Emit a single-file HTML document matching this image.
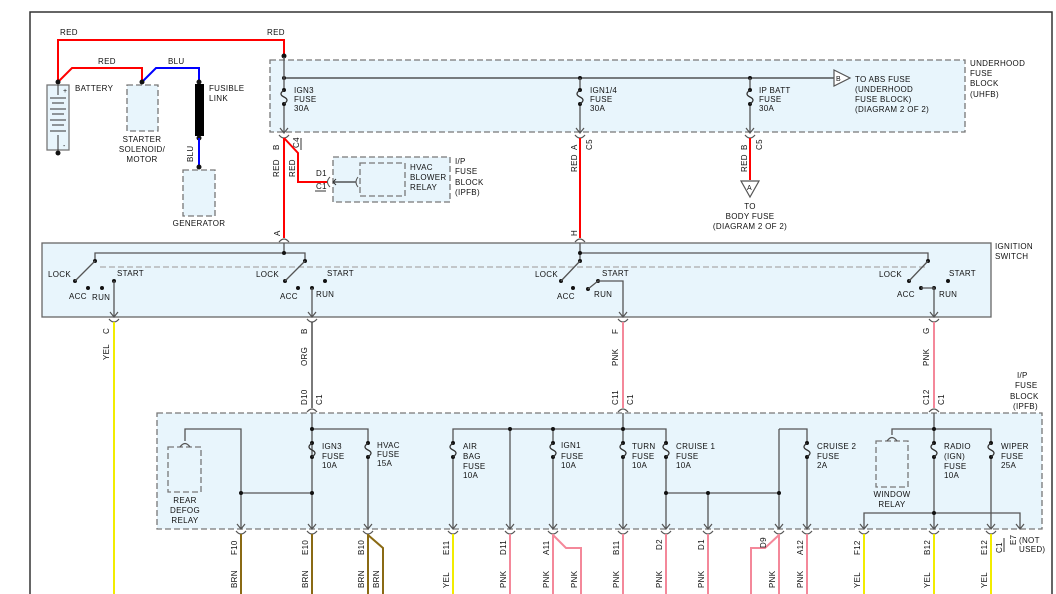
<!DOCTYPE html>
<html><head><meta charset="utf-8"><style>
html,body{margin:0;padding:0;background:#fff;}
svg{display:block;}
text{font-family:"Liberation Sans",Arial,sans-serif;font-size:8px;fill:#111;letter-spacing:0.3px;}
.g{stroke:#555;stroke-width:1.3;fill:none;}
.k{stroke:#333;stroke-width:1.3;fill:none;}
.box{fill:#e8f5fc;stroke:#777;stroke-width:1.3;stroke-dasharray:6,3;}
.r{stroke:#f00;stroke-width:2;fill:none;}
.b{stroke:#00f;stroke-width:2;fill:none;}
.y{stroke:#f2ec00;stroke-width:2;fill:none;}
.p{stroke:#f4889a;stroke-width:2;fill:none;}
.n{stroke:#8a6a14;stroke-width:2;fill:none;}
</style></head><body>
<svg width="1056" height="594" viewBox="0 0 1056 594" xmlns="http://www.w3.org/2000/svg">
<defs>
<g id="fz"><circle cx="0" cy="0" r="2" fill="#111"/><circle cx="0" cy="14" r="2" fill="#111"/><path d="M0,0 c-4,3 -4,5 0,7 c4,2 4,4 0,7" stroke="#333" stroke-width="1.3" fill="none"/></g>
<g id="ar"><path d="M-4,-5 L0,0 L4,-5" stroke="#555" stroke-width="1.2" fill="none"/></g>
<g id="cn"><path d="M-5,2 Q0,-4 5,2" stroke="#555" stroke-width="1.2" fill="none"/></g>
<g id="cu"><path d="M-5,-2 Q0,4 5,-2" stroke="#555" stroke-width="1.2" fill="none"/></g>
</defs>
<!-- outer frame -->
<path d="M30,594 L30,12 L1052,12 L1052,594" stroke="#333" stroke-width="1.5" fill="none"/>

<!-- top wires -->
<path class="r" d="M58,82 L58,40 L284,40 L284,57"/>
<text x="60" y="35">RED</text><text x="267" y="35">RED</text>
<path class="r" d="M58,82 L72,68 L142,68 L142,82"/>
<text x="98" y="64">RED</text>
<path class="b" d="M142,82 L156,68 L199,68 L199,82"/>
<text x="168" y="64">BLU</text>
<circle cx="58" cy="82" r="2.5" fill="#111"/><circle cx="142" cy="82" r="2.5" fill="#111"/><circle cx="199" cy="82" r="2.5" fill="#111"/><circle cx="284" cy="56" r="2.5" fill="#111"/>
<!-- battery -->
<rect x="47" y="85" width="22" height="65" fill="#e8f5fc" stroke="#777" stroke-width="1.3"/>
<path d="M58,85 L58,95 M50,98 L66,98 M52,103 L64,103 M50,109 L66,109 M52,114 L64,114 M50,120 L66,120 M52,125 L64,125 M50,131 L66,131 M58,135 L58,150" stroke="#333" stroke-width="1" fill="none"/>
<text x="63" y="93" style="font-size:7px">+</text><text x="63" y="148" style="font-size:7px">-</text>
<circle cx="58" cy="153" r="2.5" fill="#111"/>
<text x="75" y="91">BATTERY</text>
<rect x="127" y="85" width="31" height="46" class="box"/>
<text x="142" y="142" text-anchor="middle">STARTER</text><text x="142" y="152" text-anchor="middle">SOLENOID/</text><text x="142" y="162" text-anchor="middle">MOTOR</text>
<rect x="195" y="84" width="9" height="52" fill="#000"/>
<circle cx="199" cy="138" r="2.5" fill="#111"/>
<text x="209" y="91">FUSIBLE</text><text x="209" y="101">LINK</text>
<path class="b" d="M199,138 L199,167"/><circle cx="199" cy="167" r="2.5" fill="#111"/>
<text transform="translate(193,162) rotate(-90)">BLU</text>
<rect x="183" y="170" width="32" height="46" class="box"/>
<text x="199" y="226" text-anchor="middle">GENERATOR</text>

<!-- UHFB -->
<rect x="270" y="60" width="695" height="72" class="box"/>
<path class="k" d="M284,78 L835,78"/>
<circle cx="284" cy="78" r="2" fill="#111"/><circle cx="580" cy="78" r="2" fill="#111"/><circle cx="750" cy="78" r="2" fill="#111"/>
<path class="g" d="M284,57 L284,90 M284,104 L284,132 M580,78 L580,90 M580,104 L580,132 M750,78 L750,90 M750,104 L750,132"/>
<use href="#fz" x="284" y="90"/><use href="#fz" x="580" y="90"/><use href="#fz" x="750" y="90"/>
<use href="#ar" x="284" y="133"/><use href="#ar" x="580" y="133"/><use href="#ar" x="750" y="133"/>
<text x="294" y="93">IGN3</text><text x="294" y="102">FUSE</text><text x="294" y="111">30A</text>
<text x="590" y="93">IGN1/4</text><text x="590" y="102">FUSE</text><text x="590" y="111">30A</text>
<text x="759" y="93">IP BATT</text><text x="759" y="102">FUSE</text><text x="759" y="111">30A</text>
<path d="M834,70 L850,78 L834,86 Z" fill="#fff" stroke="#555" stroke-width="1.2"/><text x="836" y="81" style="font-size:7px">B</text>
<text x="855" y="82">TO ABS FUSE</text><text x="855" y="92">(UNDERHOOD</text><text x="855" y="102">FUSE BLOCK)</text><text x="855" y="112">(DIAGRAM 2 OF 2)</text>
<text x="970" y="66">UNDERHOOD</text><text x="970" y="76">FUSE</text><text x="970" y="86">BLOCK</text><text x="970" y="97">(UHFB)</text>

<!-- connectors below UHFB -->
<use href="#cu" x="284" y="137"/><use href="#cu" x="580" y="137"/><use href="#cu" x="750" y="137"/>
<path class="r" d="M284,138 L284,238"/>
<path class="r" d="M284,138 L298,153 L298,182 L327,182"/>
<path class="r" d="M580,138 L580,238"/>
<path class="r" d="M750,138 L750,180"/>
<text transform="translate(279,150) rotate(-90)">B</text>
<text transform="translate(299,148) rotate(-90)">C4</text><path d="M301,138 L301,150" stroke="#333"/>
<text transform="translate(279,177) rotate(-90)">RED</text>
<text transform="translate(295,177) rotate(-90)">RED</text>
<text transform="translate(577,150) rotate(-90)">A</text><text transform="translate(577,172) rotate(-90)">RED</text>
<text transform="translate(592,150) rotate(-90)">C5</text>
<text transform="translate(747,150) rotate(-90)">B</text><text transform="translate(747,172) rotate(-90)">RED</text>
<text transform="translate(762,150) rotate(-90)">C5</text>
<path d="M741,181 L759,181 L750,197 Z" fill="#fff" stroke="#555" stroke-width="1.2"/><text x="747" y="190" style="font-size:7px">A</text>
<text x="750" y="209" text-anchor="middle">TO</text><text x="750" y="219" text-anchor="middle">BODY FUSE</text><text x="750" y="229" text-anchor="middle">(DIAGRAM 2 OF 2)</text>

<!-- HVAC relay block -->
<rect x="333" y="157" width="117" height="45" class="box"/>
<rect x="360" y="163" width="45" height="33" class="box"/>
<path d="M330,177 Q325,182 330,187" stroke="#555" fill="none"/>
<path class="k" d="M333,182 L356,182"/><path d="M336,179 L333,182 L336,185" stroke="#333" fill="none"/>
<path d="M358,177 Q354,182 358,187" stroke="#555" fill="none"/>
<text x="316" y="176">D1</text><text x="316" y="189">C1</text><path d="M315,191 L326,191" stroke="#333"/>
<text x="410" y="170">HVAC</text><text x="410" y="180">BLOWER</text><text x="410" y="190">RELAY</text>
<text x="455" y="164">I/P</text><text x="455" y="174">FUSE</text><text x="455" y="185">BLOCK</text><text x="455" y="195">(IPFB)</text>

<!-- Ignition switch -->
<use href="#cn" x="284" y="240"/><use href="#cn" x="580" y="240"/>
<text transform="translate(280,236) rotate(-90)">A</text><text transform="translate(577,236) rotate(-90)">H</text>
<rect x="42" y="243" width="949" height="74" fill="#e8f5fc" stroke="#666" stroke-width="1.3"/>
<path class="g" d="M284,243 L284,253 M95,261 L95,253 L305,253 L305,261 M580,243 L580,261 M580,253 L928,253 L928,261"/>
<circle cx="284" cy="253" r="2" fill="#111"/><circle cx="580" cy="253" r="2" fill="#111"/>
<path d="M100,267 L925,267" stroke="#aaa" stroke-width="1.3" stroke-dasharray="6,3"/>
<g fill="#111">
<circle cx="95" cy="261" r="2"/><circle cx="75" cy="281" r="2"/><circle cx="88" cy="288" r="2"/><circle cx="102" cy="288" r="2"/><circle cx="114" cy="281" r="2"/>
<circle cx="305" cy="261" r="2"/><circle cx="285" cy="281" r="2"/><circle cx="298" cy="288" r="2"/><circle cx="312" cy="288" r="2"/><circle cx="325" cy="281" r="2"/>
<circle cx="580" cy="261" r="2"/><circle cx="561" cy="281" r="2"/><circle cx="573" cy="288" r="2"/><circle cx="588" cy="289" r="2"/><circle cx="598" cy="281" r="2"/>
<circle cx="928" cy="261" r="2"/><circle cx="909" cy="281" r="2"/><circle cx="921" cy="288" r="2"/><circle cx="934" cy="288" r="2"/><circle cx="948" cy="281" r="2"/>
</g>
<path class="g" d="M95,261 L75,281 M305,261 L285,281 M580,261 L561,281 M928,261 L909,281 M114,281 L114,317 M312,288 L312,317 M588,289 L598,281 L623,281 L623,317 M921,288 L934,288 L934,317"/>
<use href="#ar" x="114" y="317"/><use href="#ar" x="312" y="317"/><use href="#ar" x="623" y="317"/><use href="#ar" x="934" y="317"/>
<text x="48" y="277">LOCK</text><text x="117" y="276">START</text><text x="69" y="299">ACC</text><text x="92" y="300">RUN</text>
<text x="256" y="277">LOCK</text><text x="327" y="276">START</text><text x="280" y="299">ACC</text><text x="316" y="297">RUN</text>
<text x="535" y="277">LOCK</text><text x="602" y="276">START</text><text x="557" y="299">ACC</text><text x="594" y="297">RUN</text>
<text x="879" y="277">LOCK</text><text x="949" y="276">START</text><text x="897" y="297">ACC</text><text x="939" y="297">RUN</text>
<text x="995" y="249">IGNITION</text><text x="995" y="259">SWITCH</text>

<!-- wires between -->
<use href="#cu" x="114" y="321"/><use href="#cu" x="312" y="321"/><use href="#cu" x="623" y="321"/><use href="#cu" x="934" y="321"/>
<path class="y" d="M114,322 L114,594"/>
<path class="k" d="M312,322 L312,408"/>
<path class="p" d="M623,322 L623,408"/>
<path class="p" d="M934,322 L934,408"/>
<text transform="translate(109,334) rotate(-90)">C</text><text transform="translate(109,360) rotate(-90)">YEL</text>
<text transform="translate(307,334) rotate(-90)">B</text><text transform="translate(307,366) rotate(-90)">ORG</text>
<text transform="translate(618,334) rotate(-90)">F</text><text transform="translate(618,366) rotate(-90)">PNK</text>
<text transform="translate(929,334) rotate(-90)">G</text><text transform="translate(929,366) rotate(-90)">PNK</text>
<text transform="translate(307,405) rotate(-90)">D10</text><text transform="translate(322,405) rotate(-90)">C1</text>
<text transform="translate(618,405) rotate(-90)">C11</text><text transform="translate(633,405) rotate(-90)">C1</text>
<text transform="translate(929,405) rotate(-90)">C12</text><text transform="translate(944,405) rotate(-90)">C1</text>
<use href="#cn" x="312" y="410"/><use href="#cn" x="623" y="410"/><use href="#cn" x="934" y="410"/>
<text x="1017" y="378">I/P</text><text x="1015" y="388">FUSE</text><text x="1010" y="399">BLOCK</text><text x="1013" y="409">(IPFB)</text>

<!-- IPFB -->
<rect x="157" y="413" width="885" height="116" class="box"/>
<rect x="168" y="447" width="33" height="45" class="box"/>
<path class="g" d="M180,447 Q185,440 190,447 M185,441 L185,429 L241,429 L241,529"/>
<path class="g" d="M312,413 L312,529 M312,429 L368,429 L368,443 M368,457 L368,529 M312,429 L312,443 M241,493 L312,493"/>
<circle cx="312" cy="429" r="2" fill="#111"/><circle cx="241" cy="493" r="2" fill="#111"/><circle cx="312" cy="493" r="2" fill="#111"/>
<use href="#fz" x="312" y="443"/><use href="#fz" x="368" y="443"/>
<path class="g" d="M453,443 L453,429 L666,429 L666,443 M453,457 L453,529 M510,429 L510,529 M553,429 L553,443 M553,457 L553,529 M623,413 L623,443 M623,457 L623,529 M666,457 L666,529 M666,493 L779,493 M708,493 L708,529 M779,429 L779,529 M779,429 L807,429 L807,443 M807,457 L807,529"/>
<g fill="#111"><circle cx="510" cy="429" r="2"/><circle cx="553" cy="429" r="2"/><circle cx="623" cy="429" r="2"/><circle cx="666" cy="493" r="2"/><circle cx="708" cy="493" r="2"/><circle cx="779" cy="493" r="2"/></g>
<use href="#fz" x="453" y="443"/><use href="#fz" x="553" y="443"/><use href="#fz" x="623" y="443"/><use href="#fz" x="666" y="443"/><use href="#fz" x="807" y="443"/>
<rect x="876" y="441" width="32" height="46" class="box"/>
<path class="g" d="M887,441 Q892,434 897,441 M892,435 L892,429 L991,429 L991,443 M991,457 L991,529 M934,413 L934,443 M934,457 L934,529 M864,529 L864,513 L1020,513 L1020,529"/>
<circle cx="934" cy="429" r="2" fill="#111"/><circle cx="934" cy="513" r="2" fill="#111"/>
<use href="#fz" x="934" y="443"/><use href="#fz" x="991" y="443"/>
<g>
<use href="#ar" x="241" y="529"/><use href="#ar" x="312" y="529"/><use href="#ar" x="368" y="529"/><use href="#ar" x="453" y="529"/><use href="#ar" x="510" y="529"/><use href="#ar" x="553" y="529"/><use href="#ar" x="623" y="529"/><use href="#ar" x="666" y="529"/><use href="#ar" x="708" y="529"/><use href="#ar" x="779" y="529"/><use href="#ar" x="807" y="529"/><use href="#ar" x="864" y="529"/><use href="#ar" x="934" y="529"/><use href="#ar" x="991" y="529"/><use href="#ar" x="1020" y="529"/>
<use href="#cu" x="241" y="533"/><use href="#cu" x="312" y="533"/><use href="#cu" x="368" y="533"/><use href="#cu" x="453" y="533"/><use href="#cu" x="510" y="533"/><use href="#cu" x="553" y="533"/><use href="#cu" x="623" y="533"/><use href="#cu" x="666" y="533"/><use href="#cu" x="708" y="533"/><use href="#cu" x="779" y="533"/><use href="#cu" x="807" y="533"/><use href="#cu" x="864" y="533"/><use href="#cu" x="934" y="533"/><use href="#cu" x="991" y="533"/>
</g>
<text x="185" y="503" text-anchor="middle">REAR</text><text x="185" y="513" text-anchor="middle">DEFOG</text><text x="185" y="523" text-anchor="middle">RELAY</text>
<text x="322" y="449">IGN3</text><text x="322" y="459">FUSE</text><text x="322" y="468">10A</text>
<text x="377" y="448">HVAC</text><text x="377" y="457">FUSE</text><text x="377" y="466">15A</text>
<text x="463" y="449">AIR</text><text x="463" y="459">BAG</text><text x="463" y="469">FUSE</text><text x="463" y="478">10A</text>
<text x="561" y="448">IGN1</text><text x="561" y="459">FUSE</text><text x="561" y="468">10A</text>
<text x="632" y="449">TURN</text><text x="632" y="459">FUSE</text><text x="632" y="468">10A</text>
<text x="676" y="449">CRUISE 1</text><text x="676" y="459">FUSE</text><text x="676" y="468">10A</text>
<text x="817" y="449">CRUISE 2</text><text x="817" y="459">FUSE</text><text x="817" y="468">2A</text>
<text x="892" y="497" text-anchor="middle">WINDOW</text><text x="892" y="507" text-anchor="middle">RELAY</text>
<text x="944" y="449">RADIO</text><text x="944" y="459">(IGN)</text><text x="944" y="469">FUSE</text><text x="944" y="478">10A</text>
<text x="1001" y="449">WIPER</text><text x="1001" y="459">FUSE</text><text x="1001" y="468">25A</text>

<!-- bottom wires -->
<path class="n" d="M241,534 L241,594 M312,534 L312,594 M368,534 L368,594 M368,535 L383,548 L383,594"/>
<path class="y" d="M453,534 L453,594 M864,534 L864,594 M934,534 L934,594 M991,534 L991,594"/>
<path class="p" d="M510,534 L510,594 M553,534 L553,594 M553,535 L566,548 L581,548 L581,594 M623,534 L623,594 M666,534 L666,594 M708,534 L708,594 M779,534 L779,594 M779,535 L765,548 L751,548 L751,594 M807,534 L807,594"/>
<g>
<text transform="translate(237,555) rotate(-90)">F10</text><text transform="translate(237,588) rotate(-90)">BRN</text>
<text transform="translate(308,555) rotate(-90)">E10</text><text transform="translate(308,588) rotate(-90)">BRN</text>
<text transform="translate(364,555) rotate(-90)">B10</text><text transform="translate(364,588) rotate(-90)">BRN</text><text transform="translate(379,588) rotate(-90)">BRN</text>
<text transform="translate(449,555) rotate(-90)">E11</text><text transform="translate(449,588) rotate(-90)">YEL</text>
<text transform="translate(506,555) rotate(-90)">D11</text><text transform="translate(506,588) rotate(-90)">PNK</text>
<text transform="translate(549,555) rotate(-90)">A11</text><text transform="translate(549,588) rotate(-90)">PNK</text><text transform="translate(577,588) rotate(-90)">PNK</text>
<text transform="translate(619,555) rotate(-90)">B11</text><text transform="translate(619,588) rotate(-90)">PNK</text>
<text transform="translate(662,550) rotate(-90)">D2</text><text transform="translate(662,588) rotate(-90)">PNK</text>
<text transform="translate(704,550) rotate(-90)">D1</text><text transform="translate(704,588) rotate(-90)">PNK</text>
<text transform="translate(766,548) rotate(-90)">D9</text><text transform="translate(775,588) rotate(-90)">PNK</text>
<text transform="translate(803,555) rotate(-90)">A12</text><text transform="translate(803,588) rotate(-90)">PNK</text>
<text transform="translate(860,555) rotate(-90)">F12</text><text transform="translate(860,588) rotate(-90)">YEL</text>
<text transform="translate(930,555) rotate(-90)">B12</text><text transform="translate(930,588) rotate(-90)">YEL</text>
<text transform="translate(987,555) rotate(-90)">E12</text><text transform="translate(987,588) rotate(-90)">YEL</text>
<text transform="translate(1002,553) rotate(-90)">C1</text><path d="M1004,538 L1004,552" stroke="#333"/>
<text transform="translate(1016,545) rotate(-90)">E7</text>
<text x="1019" y="543">(NOT</text><text x="1019" y="552">USED)</text>
</g>
</svg>
</body></html>
